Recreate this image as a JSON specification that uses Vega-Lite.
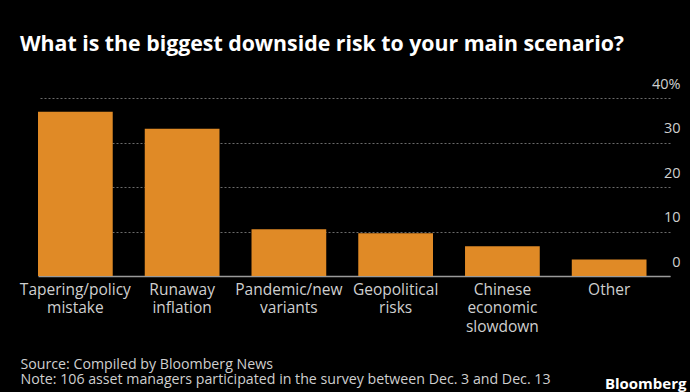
{
  "$schema": "https://vega.github.io/schema/vega-lite/v6.json",
  "autosize": "none",
  "width": 632,
  "height": 178,
  "padding": {"left": 38, "top": 98, "right": 20, "bottom": 116},
  "background": "#000000",
  "config": {"view": {"stroke": null}},
  "title": {
    "text": "What is the biggest downside risk to your main scenario?",
    "anchor": "start",
    "frame": "group",
    "dx": -18,
    "offset": 4,
    "baseline": "alphabetic",
    "font": "Open Sans",
    "fontSize": 21.3,
    "fontWeight": "bold",
    "color": "#ffffff"
  },
  "data": {
    "values": [
      {"risk": "Tapering/policy mistake", "pct": 36.9},
      {"risk": "Runaway inflation", "pct": 33.1},
      {"risk": "Pandemic/new variants", "pct": 10.5},
      {"risk": "Geopolitical risks", "pct": 9.6},
      {"risk": "Chinese economic slowdown", "pct": 6.7},
      {"risk": "Other", "pct": 3.7}
    ]
  },
  "mark": {"type": "bar", "color": "#e08a26"},
  "encoding": {
    "x": {
      "field": "risk",
      "type": "nominal",
      "sort": null,
      "scale": {"paddingInner": 0.3, "paddingOuter": 0.11, "align": 0},
      "axis": {
        "labelAngle": 0,
        "labelExpr": "split(datum.label, ' ')",
        "labelFont": "Open Sans",
        "labelFontSize": 15.5,
        "labelColor": "#cfcfcf",
        "labelLineHeight": 18.5,
        "labelBaseline": "top",
        "labelPadding": 6,
        "ticks": false,
        "domainColor": "#9a9a9a",
        "domainWidth": 1.5,
        "title": ["Source: Compiled by Bloomberg News", "Note: 106 asset managers participated in the survey between Dec. 3 and Dec. 13"],
        "titleFont": "Open Sans",
        "titleFontSize": 14.2,
        "titleFontWeight": "normal",
        "titleColor": "#cfcfcf",
        "titleLineHeight": 15.5,
        "titleAlign": "left",
        "titleBaseline": "alphabetic",
        "titleX": -18,
        "titleY": 92
      }
    },
    "y": {
      "field": "pct",
      "type": "quantitative",
      "scale": {"domain": [0, 40], "nice": false},
      "axis": {
        "orient": "right",
        "values": [0, 10, 20, 30, 40],
        "labelExpr": "datum.value == 40 ? '40%' : datum.label + '\u00a0\u00a0\u00a0'",
        "labelFont": "Open Sans",
        "labelFontSize": 14.5,
        "labelColor": "#cfcfcf",
        "labelAlign": "right",
        "labelBaseline": "alphabetic",
        "labelPadding": 10,
        "labelOffset": -10,
        "labelFlush": false,
        "labelOverlap": false,
        "ticks": false,
        "domain": false,
        "grid": true,
        "gridColor": "#6a6a6a",
        "gridDash": [2, 2],
        "gridWidth": 1,
        "title": "Bloomberg",
        "titleAngle": 0,
        "titleFont": "Open Sans",
        "titleFontSize": 15,
        "titleFontWeight": "bold",
        "titleColor": "#ffffff",
        "titleAlign": "right",
        "titleBaseline": "alphabetic",
        "titleX": 16,
        "titleY": 290
      }
    }
  }
}
